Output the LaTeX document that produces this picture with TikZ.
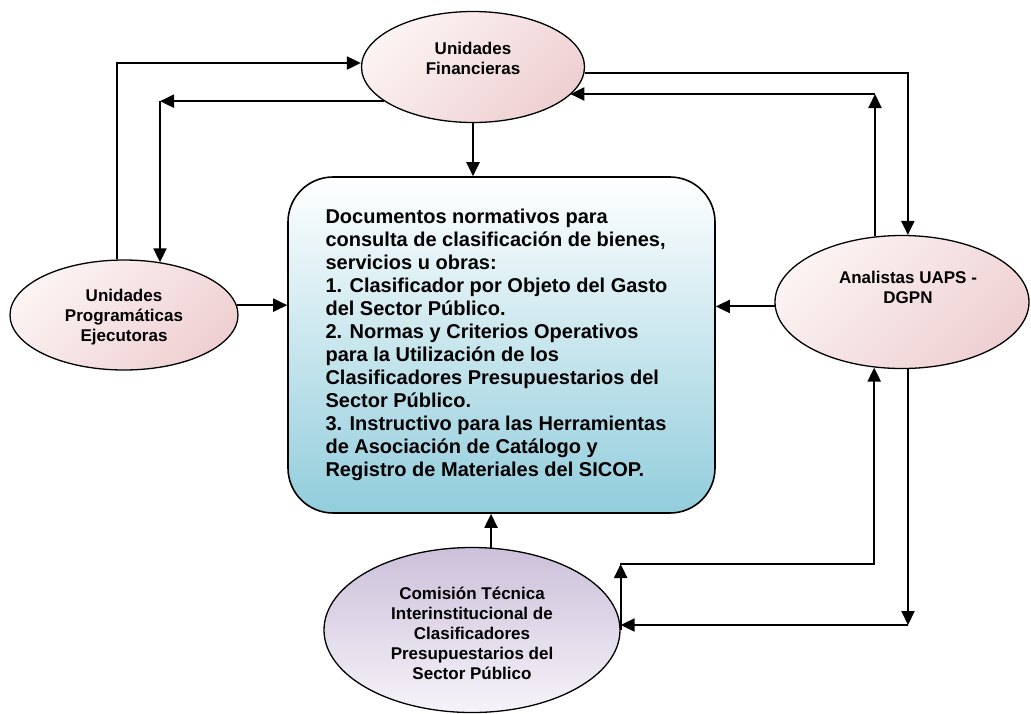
\documentclass[tikz,border=0pt]{standalone}
\usepackage{fontspec}
\setmainfont{Liberation Sans}
\usetikzlibrary{arrows.meta,shapes.geometric}
\definecolor{rosaA}{HTML}{FCF3F3}
\definecolor{rosaB}{HTML}{EFD0D2}
\definecolor{lilaA}{HTML}{CCC0DA}
\definecolor{lilaB}{HTML}{F6F3F9}
\definecolor{aguaB}{HTML}{92CDDC}
\begin{document}
\begin{tikzpicture}[x=1pt, y=-1pt,
  elipse/.style={ellipse, draw, line width=1.3pt, top color=rosaA, bottom color=rosaB, shading angle=45},
  txt/.style={align=center, font=\bfseries\fontsize{17}{20}\selectfont},
  flecha/.style={line width=2pt, -{Triangle[length=14pt,width=13pt]}}]
\useasboundingbox (0,0) rectangle (1031,713);
\node[rectangle, rounded corners=45pt, draw, line width=1.6pt, top color=white, bottom color=aguaB,
  minimum width=427pt, minimum height=336pt,
  label={[align=left, xshift=-5pt, font=\bfseries\fontsize{20}{23}\selectfont]center:{Documentos normativos para\\consulta de clasificación de bienes,\\servicios u obras:\\1. Clasificador por Objeto del Gasto\\del Sector Público.\\2. Normas y Criterios Operativos\\para la Utilización de los\\Clasificadores Presupuestarios del\\Sector Público.\\3. Instructivo para las Herramientas\\de Asociación de Catálogo y\\Registro de Materiales del SICOP.}}] (doc) at (501.5,345) {};
\node[elipse, minimum width=223pt, minimum height=111pt,
  label={[txt, yshift=9pt]center:Unidades\\Financieras}] (uf) at (473,67) {};
\node[elipse, minimum width=228pt, minimum height=110pt,
  label={[txt, yshift=-2pt]center:Unidades\\Programáticas\\Ejecutoras}] (pe) at (124,315) {};
\node[elipse, minimum width=254pt, minimum height=133pt,
  label={[txt, xshift=6pt, yshift=15pt]center:Analistas UAPS -\\DGPN}] (an) at (902,302) {};
\node[elipse, top color=lilaA, bottom color=lilaB, shading angle=0, minimum width=296pt, minimum height=165pt,
  label={[txt, yshift=-3pt]center:Comisión Técnica\\Interinstitucional de\\Clasificadores\\Presupuestarios del\\Sector Público}] (ct) at (472,630) {};
\coordinate (c1) at (117,63);
\coordinate (c2) at (160,101);
\coordinate (c4) at (875,94);
\coordinate (c5) at (908,625);
\coordinate (c6) at (620,564);
\draw[flecha] (c1 |- pe.north) -- (c1) -- (c1 -| uf.west);
\draw[flecha] (uf.201) -- (uf.201 -| c2);
\draw[flecha] (c2) -- (c2 |- pe.55);
\draw[flecha] (uf.south) -- (uf.south |- doc.north);
\draw[flecha] (pe.5) -- (pe.5 -| doc.west);
\draw[flecha] (an.182) -- (an.182 -| doc.east);
\draw[flecha] (ct.77) -- (ct.77 |- doc.south);
\draw[flecha] (uf.-3) -| (an.85);
\draw[flecha] (c4 |- an.113) -- (c4);
\draw[flecha] (c4) -- (c4 -| uf.-16);
\draw[flecha] (c5 |- an.-85) -- (c5);
\draw[flecha] (c5) -- (c5 -| ct.east);
\draw[flecha] (ct.east) -- (ct.east |- c6);
\draw[flecha] (c6) -| (an.-113);
\end{tikzpicture}
\end{document}
